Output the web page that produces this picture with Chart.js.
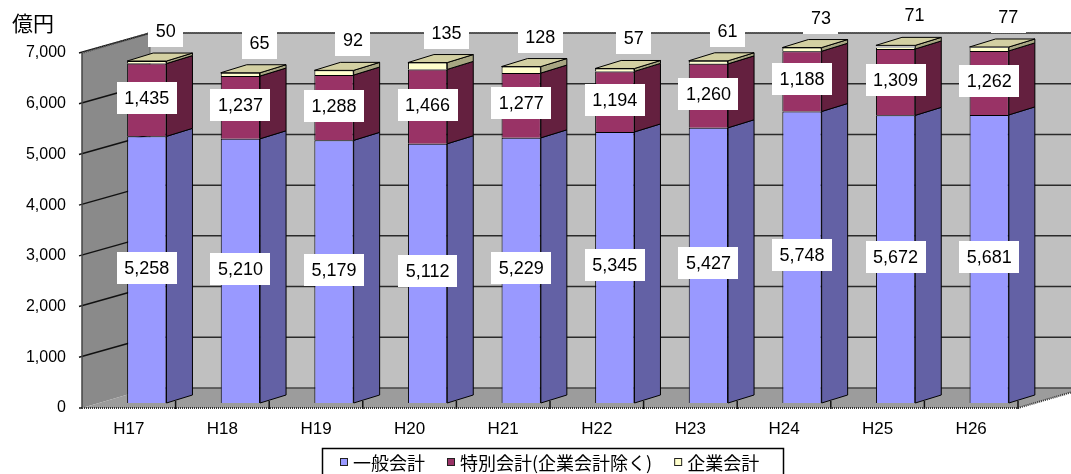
<!DOCTYPE html>
<html><head><meta charset="utf-8">
<script src="https://cdn.jsdelivr.net/npm/chart.js@4.4.1/dist/chart.umd.min.js"></script>
<style>html,body{margin:0;padding:0;background:#fff;overflow:hidden}#wrap{width:1071px;height:474px;position:relative;background:#fff}</style>
</head><body><div id="wrap"><canvas id="c" width="1071" height="474"></canvas></div>
<script>
const categories = ['H17','H18','H19','H20','H21','H22','H23','H24','H25','H26'];
const generalAccount = [5258,5210,5179,5112,5229,5345,5427,5748,5672,5681];
const specialAccount = [1435,1237,1288,1466,1277,1194,1260,1188,1309,1262];
const enterpriseAccount = [50,65,92,135,128,57,61,73,71,77];
const seriesNames = ['一般会計','特別会計(企業会計除く)','企業会計'];
const yTicks = [0,1000,2000,3000,4000,5000,6000,7000];
const unitLabel = '億円';

const frontColors = ['#9999ff','#993366','#ffffcc'];
const sideColors = ['#6361a5','#64203f','#a8a682'];
const topColor = '#d3d0a2';

const FRONT = {dx:-18, dy:5};
const BACK = {dx:50, dy:-15};
const DEPTH = {dx:26, dy:-8};
const LATIN = '"Liberation Sans", Arial, sans-serif';
const CJK = '"Noto Sans CJK JP", "Liberation Sans", sans-serif';

function poly(ctx, pts, fill, stroke, lw){
  ctx.beginPath();
  pts.forEach((p,i)=> i?ctx.lineTo(p[0],p[1]):ctx.moveTo(p[0],p[1]));
  ctx.closePath();
  if(fill){ctx.fillStyle=fill;ctx.fill();}
  if(stroke){ctx.strokeStyle=stroke;ctx.lineWidth=lw||1;ctx.stroke();}
}
function line(ctx,x1,y1,x2,y2,color,lw,dash){
  ctx.save();
  ctx.beginPath();ctx.moveTo(x1,y1);ctx.lineTo(x2,y2);
  ctx.strokeStyle=color;ctx.lineWidth=lw||1;
  if(dash)ctx.setLineDash(dash);
  ctx.stroke();ctx.restore();
}

const scene3d = {
  id:'scene3d',
  beforeDatasetsDraw(chart){
    const {ctx, chartArea:a, scales:{y}} = chart;
    const y0 = y.getPixelForValue(0), yT = y.getPixelForValue(7000);
    const fl=a.left+FRONT.dx, fr=a.right+FRONT.dx, bl=a.left+BACK.dx, br=a.right+BACK.dx;
    ctx.save();
    // back wall
    ctx.fillStyle='#c0c0c0';
    ctx.fillRect(bl, yT+BACK.dy, br-bl, y0-yT);
    yTicks.forEach(v=>{ if(v===0) return; const p=y.getPixelForValue(v)+BACK.dy; line(ctx,bl,p,br,p,'#2a2a2a',1.5); });
    // left wall
    poly(ctx,[[fl,y0+FRONT.dy],[fl,yT+FRONT.dy],[bl,yT+BACK.dy],[bl,y0+BACK.dy]],'#8a8a8a');
    yTicks.forEach(v=>{ if(v===0) return; const p=y.getPixelForValue(v); line(ctx,fl-3,p+FRONT.dy,bl,p+BACK.dy,'#111',1.5); });
    // floor
    poly(ctx,[[fl,y0+FRONT.dy],[fr,y0+FRONT.dy],[br,y0+BACK.dy],[bl,y0+BACK.dy]],'#9c9c9c');
    line(ctx,bl,y0+BACK.dy,br,y0+BACK.dy,'#444',1.5);
    line(ctx,bl,y0+BACK.dy,bl,yT+BACK.dy,'#666',1);
    // edges
    line(ctx,fl,y0+FRONT.dy,fr,y0+FRONT.dy,'#333',2,[1,1]);
    line(ctx,fr,y0+FRONT.dy,br,y0+BACK.dy,'#333',2,[1,1]);
    line(ctx,bl,yT+BACK.dy,br,yT+BACK.dy,'#555',2,[1,1]);
    line(ctx,fl,yT+FRONT.dy,bl,yT+BACK.dy,'#555',2,[1,1]);
    line(ctx,fl,y0+FRONT.dy,fl,yT+FRONT.dy,'#444',1.5);
    line(ctx,fl-3,y0+FRONT.dy,fl,y0+FRONT.dy,'#111',1.5);
    ctx.restore();
  },
  afterDatasetsDraw(chart){
    const {ctx, chartArea:a, scales:{x,y}} = chart;
    const y0 = y.getPixelForValue(0);
    const n = chart.data.datasets.length;
    ctx.save();
    for(let i=0;i<n;i++){
      const meta = chart.getDatasetMeta(i);
      meta.data.forEach(el=>{
        const p = el.getProps(['x','y','base','width'], true);
        const xl=p.x-p.width/2, xr=p.x+p.width/2, yt=Math.min(p.y,p.base), yb=Math.max(p.y,p.base);
        poly(ctx,[[xr,yt],[xr+DEPTH.dx,yt+DEPTH.dy],[xr+DEPTH.dx,yb+DEPTH.dy],[xr,yb]],sideColors[i],'#000',1);
        if(i===n-1){
          poly(ctx,[[xl,yt],[xr,yt],[xr+DEPTH.dx,yt+DEPTH.dy],[xl+DEPTH.dx,yt+DEPTH.dy]],topColor,'#000',1);
        }
      });
    }
    // front category ticks
    const cw = (a.right-a.left)/categories.length;
    for(let k=1;k<=categories.length;k++){
      const px=a.left+k*cw+FRONT.dx;
      line(ctx,px,y0-2,px,y0+FRONT.dy+1,'#111',1.5);
    }
    // value labels
    ctx.font='18px '+LATIN;
    ctx.textAlign='center';ctx.textBaseline='middle';
    for(let i=0;i<n;i++){
      const meta = chart.getDatasetMeta(i);
      const vals = chart.data.datasets[i].data;
      meta.data.forEach((el,j)=>{
        const p = el.getProps(['x','y','base','width'], true);
        const txt = vals[j].toLocaleString('en-US');
        let cx, cy;
        if(i<n-1){ cx=p.x; cy=(p.y+p.base)/2-2; }
        else { cx=p.x+19; cy=Math.min(p.y,p.base)-30; }
        const w = ctx.measureText(txt).width+15, h=32;
        ctx.fillStyle='#fff';
        ctx.fillRect(Math.round(cx-w/2),Math.round(cy-h/2),Math.round(w),h);
        ctx.fillStyle='#000';
        ctx.fillText(txt,cx,cy+1);
      });
    }
    ctx.restore();
  },
  afterDraw(chart){
    const {ctx} = chart;
    ctx.save();
    // unit
    ctx.font='21px '+CJK;
    ctx.fillStyle='#000';ctx.textAlign='left';ctx.textBaseline='middle';
    ctx.fillText(unitLabel,12,23);
    // legend
    ctx.strokeStyle='#000';ctx.lineWidth=1.5;
    ctx.strokeRect(322.5,448.5,461,40);
    ctx.font='18px '+CJK;
    let cx=340; const cy=462;
    seriesNames.forEach((name,i)=>{
      ctx.fillStyle=frontColors[i];
      ctx.fillRect(cx,cy-4,8,8);
      ctx.strokeStyle='#222';ctx.lineWidth=1;
      ctx.strokeRect(cx+0.5,cy-3.5,7,7);
      ctx.fillStyle='#000';
      ctx.fillText(name,cx+13,cy+1);
      cx += 13 + ctx.measureText(name).width + 22;
    });
    ctx.restore();
  }
};

new Chart(document.getElementById('c'), {
  type:'bar',
  data:{
    labels:categories,
    datasets:[
      {label:seriesNames[0], data:generalAccount, backgroundColor:frontColors[0], borderColor:'#000', borderWidth:1},
      {label:seriesNames[1], data:specialAccount, backgroundColor:frontColors[1], borderColor:'#000', borderWidth:1},
      {label:seriesNames[2], data:enterpriseAccount, backgroundColor:frontColors[2], borderColor:'#000', borderWidth:1}
    ]
  },
  options:{
    responsive:false, animation:false,
    layout:{padding:{top:48,right:35,left:0,bottom:0}},
    datasets:{bar:{categoryPercentage:1, barPercentage:0.42}},
    plugins:{legend:{display:false}, tooltip:{enabled:false}},
    scales:{
      x:{stacked:true, grid:{display:false, drawTicks:false}, border:{display:false},
         ticks:{color:'#000', font:{family:LATIN,size:17}, padding:16, labelOffset:-18, maxRotation:0},
         afterFit(s){ s.height=71; }},
      y:{stacked:true, min:0, max:7000, grid:{display:false, drawTicks:false}, border:{display:false},
         ticks:{stepSize:1000, color:'#000', font:{family:LATIN,size:16}, padding:34, labelOffset:5,
                callback:v=>v.toLocaleString('en-US')},
         afterFit(s){ s.width=100; }}
    }
  },
  plugins:[scene3d]
});
</script></body></html>
